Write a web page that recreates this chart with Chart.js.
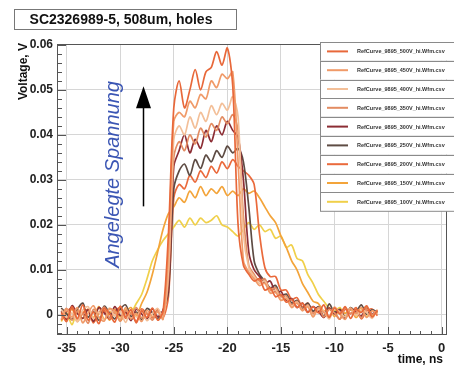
<!DOCTYPE html>
<html>
<head>
<meta charset="utf-8">
<title>SC2326989-5, 508um, holes</title>
<script src="https://cdn.jsdelivr.net/npm/chart.js@4/dist/chart.umd.min.js"></script>
<style>
  html, body { margin: 0; padding: 0; background: #fff; }
  #wrap { width: 454px; height: 366px; position: relative; }
</style>
</head>
<body>
<div id="wrap"><canvas id="chart" width="454" height="366"></canvas></div>
<script>
// ---------------------------------------------------------
// Data (time in ns, voltage in mV)
// ---------------------------------------------------------
const timeNs = [
  -35.5, -35, -34.5, -34, -33.5, -33, -32.5, -32, -31.5, -31,
  -30.5, -30, -29.5, -29, -28.5, -28, -27.5, -27, -26.5, -26,
  -25.5, -25, -24.5, -24, -23.5, -23, -22.5, -22, -21.5, -21,
  -20.5, -20, -19.5, -19, -18.5, -18, -17.5, -17, -16.5, -16,
  -15.5, -15, -14.5, -14, -13.5, -13, -12.5, -12, -11.5, -11,
  -10.5, -10, -9.5, -9, -8.5, -8, -7.5, -7, -6.5, -6
];

const mv500 = [0.5, -1.5, 1.8, -0.8, 2.2, -1.2, 0.6, -2.0, 1.4, 0.2, -1.6, 1.9, -0.4, 1.1, -1.8, 0.9, -0.6, 1.5, -1.2, 0.8,
  18, 46, 52, 46, 50, 54.5, 50, 54, 55, 58.5,
  55.5, 59.3, 51, 20, 11, 9, 7.5, 8, 5.5, 6,
  4, 4.5, 2.8, 3.4, 1.6, 2.6, 0.5, 1.8, 0.4, 2.2,
  -0.6, 1.5, 0.2, 1.8, -0.8, 1.2, 0.5, 2.0, -0.5, 1.0];
const mv450 = [-1.0, 1.2, -0.5, 1.6, -1.8, 0.4, 2.0, -0.6, -1.4, 1.3, 0.7, -1.1, 1.6, -0.9, 0.3, -1.5, 1.0, -0.4, 0.6, -1.0,
  14, 43, 45, 44, 47.5, 46, 49, 48, 52, 50.5,
  53.5, 52.5, 54, 34, 12, 9.5, 8, 6.5, 7, 4.8,
  5, 3.2, 3.6, 1.6, 2.6, 0.9, 1.8, -0.5, 1.6, 0.5,
  -0.4, 1.7, 0.2, -1.0, 1.4, 0.3, 1.6, -0.6, 0.9, 0.2];
const mv400 = [1.2, -0.6, 0.4, -1.6, 1.0, 1.8, -0.9, 0.6, -1.2, 1.5, -0.3, 0.8, -1.7, 1.1, -0.5, 0.9, -1.3, 0.2, 1.4, -0.5,
  10, 39, 42, 40, 44, 41.5, 45, 43, 46.5, 44.5,
  47, 45.5, 48.5, 44, 18, 10.5, 8.5, 7, 7.5, 5,
  5.5, 3.4, 3.8, 1.8, 2.8, 0.9, 2.0, -0.3, 1.2, 0.8,
  -0.9, 1.4, 0.6, -0.5, 1.5, -0.2, 1.0, 0.5, -0.8, 1.2];
const mv350 = [-0.4, 1.4, -1.2, 0.8, 0.2, -1.9, 1.2, 0.3, 1.7, -0.8, 0.5, -1.4, 0.9, 0.1, 1.6, -0.7, 0.4, -1.2, 0.9, 0.0,
  8, 35, 38.5, 36.5, 40, 38, 41.5, 39.5, 42.5, 41,
  44, 42.5, 44.5, 41, 22, 11, 9, 7.5, 8, 5.5,
  6, 4, 4.2, 2.2, 3, 1.2, 2.2, 0.2, 1.6, -0.5,
  1.2, 0.4, -0.9, 1.6, 0.3, 1.0, -0.7, 1.3, 0.1, 0.8];
const mv300 = [0.8, -1.1, 2.0, 0.3, -0.8, 1.1, -1.5, 1.6, 0.4, -0.7, 1.8, -0.2, 0.6, -1.3, 1.2, 0.2, -0.9, 1.3, -0.4, 1.0,
  6, 33, 36.5, 40, 36, 39, 37, 41, 38.5, 42,
  40, 43, 41, 39.5, 30, 14, 10, 8.5, 7, 7.5,
  5, 5.2, 3.2, 3.6, 1.6, 2.6, 0.6, 1.8, 0.8, -0.6,
  1.5, 0.2, 1.1, -0.8, 1.3, 0.6, -0.3, 1.4, 0.2, 0.9];
const mv250 = [1.5, 0.2, -1.0, 1.2, 2.6, -0.5, 0.7, -1.2, 1.9, 0.4, -0.9, 1.2, 2.2, -0.4, 0.6, -1.1, 1.4, 0.5, -0.8, 1.0,
  5, 28, 32, 33.5, 31, 34.5, 32.5, 35.5, 34, 36.5,
  35, 37.5, 36, 37, 34, 24, 12, 9, 7.5, 6,
  6.5, 4.2, 4.6, 2.6, 3.2, 1.4, 2.6, 0.8, 1.8, -0.4,
  2.4, 0.6, 1.2, -0.5, 1.6, 0.7, 2.2, 0.1, 1.1, 0.6];
const mv200 = [-1.2, 0.6, 1.5, -0.9, 0.3, 1.2, -1.8, 0.5, 1.0, -1.1, 0.7, 1.6, -0.8, 0.4, -1.5, 1.3, 0.2, -0.7, 1.2, -0.6,
  4, 26, 29, 28, 31, 29.5, 32, 30.5, 33, 31.5,
  34, 32.5, 34.5, 33, 32, 31, 29, 18, 10.5, 8.5,
  8.5, 5.5, 5.5, 3.4, 3.8, 1.8, 2.6, 0.6, 1.8, -0.6,
  1.4, 0.5, -1.0, 1.2, 0.2, 1.6, -0.9, 0.8, 1.3, -0.2];
const mv150 = [0.6, -0.8, 1.3, -1.5, 0.4, 1.1, -0.6, 1.8, -1.0, 0.3, 1.2, -1.4, 0.5, 1.6,
  -0.2, 2.5, 5, 9, 14, 19,
  22.5, 24, 26, 25, 27.5, 26, 28.5, 26.5, 28, 27,
  28.5, 26.5, 27.5, 26.5, 28, 27, 27.5, 26, 24, 22,
  20.5, 17.5, 15, 12, 10, 7, 5, 3, 2.5, 0.8,
  1.6, -0.4, 1.2, 0.3, 1.5, -0.6, 0.9, 1.8, -0.3, 0.7];
const mv100 = [-1.5, 0.4, -2.2, 0.9, -0.8, 1.2, -1.6, 0.2, 1.0, -1.2, 0.6, -0.5, 1.1,
  0.5, 2.5, 4.5, 8, 12, 14.5, 16.5,
  18, 19.5, 21, 19.5, 21.5, 20, 21.5, 20.5, 21, 22,
  20, 19.5, 18.5, 17.5, 19, 20.5, 19, 20, 18.5, 19,
  17, 17.5, 15, 15.5, 12.5, 12, 9, 7, 4.5, 3,
  1.5, 0.8, 1.6, -0.5, 1.2, 0.2, 1.5, -0.4, 0.9, 0.4];

const curveLabels = [
  'RefCurve_9895_500V_hi.Wfm.csv', 'RefCurve_9895_450V_hi.Wfm.csv', 'RefCurve_9895_400V_hi.Wfm.csv',
  'RefCurve_9895_350V_hi.Wfm.csv', 'RefCurve_9895_300V_hi.Wfm.csv', 'RefCurve_9895_250V_hi.Wfm.csv',
  'RefCurve_9895_200V_hi.Wfm.csv', 'RefCurve_9895_150V_hi.Wfm.csv', 'RefCurve_9895_100V_hi.Wfm.csv'
];
const curveColors = ['#e8683a', '#f09a68', '#f3bf98', '#e38c62', '#8c2d34', '#5e4c44', '#ea6a3c', '#f3a43a', '#f0d04a'];
const series = [mv500, mv450, mv400, mv350, mv300, mv250, mv200, mv150, mv100];

const xTickValues = [-35, -30, -25, -20, -15, -10, -5, 0];
const yTickValues = [0, 0.01, 0.02, 0.03, 0.04, 0.05, 0.06];

// ---------------------------------------------------------
// Decorations (ROOT style frame, ticks, legend, annotation)
// ---------------------------------------------------------
const FONT = '"Liberation Sans", Arial, Helvetica, sans-serif';

const rootStyle = {
  id: 'rootStyle',
  afterDatasetsDraw(chart) {
    const { ctx, chartArea: a, scales: { x, y } } = chart;
    ctx.save();
    ctx.strokeStyle = '#555';
    ctx.lineWidth = 1;
    ctx.strokeRect(a.left + 0.5, a.top + 0.5, a.right - a.left - 1, a.bottom - a.top - 1);

    // ticks pointing into the frame
    ctx.beginPath();
    for (let t = -35; t <= 0; t += 1) {
      const px = Math.round(x.getPixelForValue(t)) + 0.5;
      const len = t % 5 === 0 ? 8 : 4;
      ctx.moveTo(px, a.bottom);
      ctx.lineTo(px, a.bottom - len);
    }
    for (let k = -2; k <= 30; k++) {
      const v = k * 0.002;
      const py = Math.round(y.getPixelForValue(v)) + 0.5;
      const len = k % 5 === 0 ? 9 : 5;
      ctx.moveTo(a.left, py);
      ctx.lineTo(a.left + len, py);
    }
    ctx.stroke();
    ctx.restore();
  },
  afterDraw(chart) {
    const { ctx, chartArea: a, scales: { x, y } } = chart;
    ctx.save();

    // title box
    ctx.fillStyle = '#fff';
    ctx.strokeStyle = '#777';
    ctx.fillRect(14, 9, 223, 20);
    ctx.strokeRect(14.5, 9.5, 222, 20);
    ctx.fillStyle = '#111';
    ctx.font = 'bold 14px ' + FONT;
    ctx.textAlign = 'center';
    ctx.textBaseline = 'middle';
    ctx.fillText('SC2326989-5, 508um, holes', 121, 20);

    // axis titles
    ctx.font = 'bold 12px ' + FONT;
    ctx.textAlign = 'right';
    ctx.fillText('time, ns', a.right - 4, 360);
    ctx.save();
    ctx.translate(24, a.top - 1);
    ctx.rotate(-Math.PI / 2);
    ctx.textAlign = 'right';
    ctx.fillText('Voltage, V', 0, 0);
    ctx.restore();

    // legend
    const lx = 320, lw = 140, ly = 42, rh = 18.8;
    chart.data.datasets.forEach((ds, i) => {
      const top = ly + i * rh;
      ctx.fillStyle = '#fff';
      ctx.fillRect(lx, top, lw, rh);
      ctx.strokeStyle = '#8a8a8a';
      ctx.lineWidth = 1;
      ctx.strokeRect(lx + 0.5, Math.round(top) + 0.5, lw, rh);
      ctx.strokeStyle = ds.borderColor;
      ctx.lineWidth = 2;
      ctx.beginPath();
      ctx.moveTo(327, top + rh / 2);
      ctx.lineTo(348, top + rh / 2);
      ctx.stroke();
      ctx.fillStyle = '#333';
      ctx.font = 'bold 5.5px ' + FONT;
      ctx.textAlign = 'left';
      ctx.fillText(ds.label, 357, top + rh / 2 + 0.5);
    });

    // arrow annotation
    const ax = Math.round(x.getPixelForValue(-27.9)) + 0.5;
    const yFrom = y.getPixelForValue(0.0241);
    const yTip = y.getPixelForValue(0.0508);
    ctx.strokeStyle = '#000';
    ctx.fillStyle = '#000';
    ctx.lineWidth = 1.5;
    ctx.beginPath();
    ctx.moveTo(ax, yFrom);
    ctx.lineTo(ax, yTip + 20);
    ctx.stroke();
    ctx.beginPath();
    ctx.moveTo(ax, yTip);
    ctx.lineTo(ax - 7.5, yTip + 22);
    ctx.lineTo(ax + 7.5, yTip + 22);
    ctx.closePath();
    ctx.fill();

    ctx.save();
    ctx.translate(x.getPixelForValue(-30.6), y.getPixelForValue(0.0312));
    ctx.rotate(-Math.PI / 2);
    ctx.fillStyle = '#3b56b4';
    ctx.font = 'italic 20px ' + FONT;
    ctx.textAlign = 'center';
    ctx.textBaseline = 'middle';
    ctx.fillText('Angelegte Spannung', 0, 0);
    ctx.restore();

    ctx.restore();
  }
};

const datasets = series.map((mv, i) => ({
  label: curveLabels[i],
  data: timeNs.map((t, j) => ({ x: t, y: mv[j] / 1000 })),
  borderColor: curveColors[i],
  backgroundColor: curveColors[i],
  borderWidth: 1.7,
  pointRadius: 0,
  tension: 0.3,
  fill: false
}));

new Chart(document.getElementById('chart'), {
  type: 'line',
  data: { datasets },
  options: {
    responsive: false,
    animation: false,
    events: [],
    layout: { padding: { left: 0, top: 44, right: 7, bottom: 0 } },
    plugins: { legend: { display: false }, tooltip: { enabled: false }, title: { display: false } },
    scales: {
      x: {
        type: 'linear',
        min: -35.9,
        max: 0.5,
        afterBuildTicks: s => { s.ticks = xTickValues.map(v => ({ value: v })); },
        afterFit: s => { s.height = 31; },
        grid: { color: '#d6d6d6', drawTicks: false },
        border: { display: false },
        ticks: {
          autoSkip: false, maxRotation: 0, padding: 6, color: '#222',
          font: { family: FONT, size: 13, weight: 'bold' },
          callback: v => String(v)
        }
      },
      y: {
        type: 'linear',
        min: -0.0045,
        max: 0.0602,
        afterBuildTicks: s => { s.ticks = yTickValues.map(v => ({ value: v })); },
        afterFit: s => { s.width = 57; },
        grid: { color: '#d6d6d6', drawTicks: false },
        border: { display: false },
        ticks: {
          autoSkip: false, padding: 4, color: '#222',
          font: { family: FONT, size: 12, weight: 'bold' },
          callback: v => v === 0 ? '0' : v.toFixed(2)
        }
      }
    }
  },
  plugins: [rootStyle]
});
</script>
</body>
</html>
